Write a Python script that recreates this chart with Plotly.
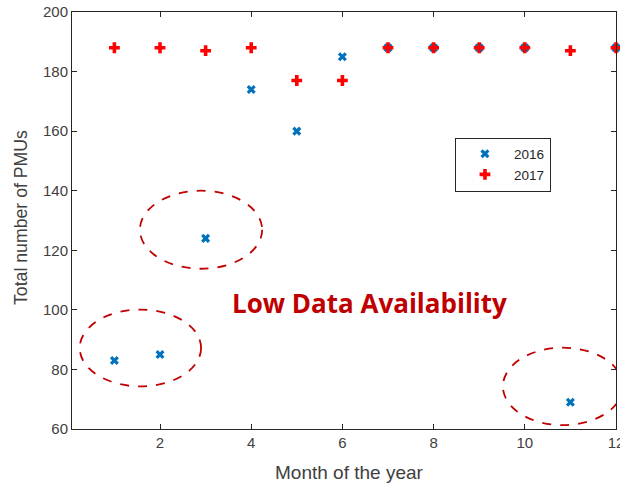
import plotly.graph_objects as go

months = [1, 2, 3, 4, 5, 6, 7, 8, 9, 10, 11, 12]
pmus_2016 = [83, 85, 124, 174, 160, 185, 188, 188, 188, 188, 69, 188]
pmus_2017 = [188, 188, 187, 188, 177, 177, 188, 188, 188, 188, 187, 188]
x_ticks = [2, 4, 6, 8, 10, 12]
y_ticks = [60, 80, 100, 120, 140, 160, 180, 200]

axis_color = "#262626"
label_color = "#404040"
note_color = "#c00000"

fig = go.Figure()
fig.add_trace(go.Scatter(
    x=months, y=pmus_2016, mode="markers", name="2016", cliponaxis=False,
    marker=dict(symbol="x", size=8, color="#0072BD", line=dict(width=0)),
))
fig.add_trace(go.Scatter(
    x=months, y=pmus_2017, mode="markers", name="2017", cliponaxis=False,
    marker=dict(symbol="cross", size=9, color="#FF0000", line=dict(width=0)),
))

ellipses = [
    (0.24, 74.3, 2.90, 100.1),
    (1.56, 113.8, 4.24, 140.0),
    (9.52, 61.3, 12.15, 87.3),
]
for x0, y0, x1, y1 in ellipses:
    fig.add_shape(type="circle", xref="x", yref="y", x0=x0, y0=y0, x1=x1, y1=y1,
                  line=dict(color=note_color, width=1.8, dash="dash"))

fig.add_annotation(x=6.6, y=102.4, xref="x", yref="y", text="<b>Low Data Availability</b>",
                   showarrow=False, xanchor="center", yanchor="middle",
                   font=dict(family="Open Sans", size=26, color=note_color))

fig.add_annotation(x=-0.094, y=0.508, xref="paper", yref="paper", text="Total number of PMUs",
                   textangle=-90, showarrow=False, xanchor="center", yanchor="middle",
                   font=dict(family="Liberation Sans, Arial", size=17.7, color=label_color))
fig.add_annotation(x=0.510, y=-0.105, xref="paper", yref="paper", text="Month of the year",
                   showarrow=False, xanchor="center", yanchor="middle",
                   font=dict(family="Liberation Sans, Arial", size=19, color=label_color))

fig.update_layout(
    width=620, height=483,
    margin=dict(l=72, r=4, t=12, b=54, autoexpand=False),
    plot_bgcolor="white", paper_bgcolor="white",
    font=dict(family="Liberation Sans, Arial", size=15, color=label_color),
    legend=dict(x=0.704, y=0.699, xanchor="left", yanchor="top",
                bordercolor=axis_color, borderwidth=1, bgcolor="white",
                font=dict(size=13.5, color="#262626"), itemwidth=48, tracegroupgap=0),
    showlegend=True,
)
fig.update_xaxes(range=[0.07, 12], tickvals=x_ticks, ticks="inside", ticklen=5,
                 showline=True, linecolor=axis_color, linewidth=1, mirror="ticks",
                 showgrid=False, zeroline=False, tickcolor=axis_color, automargin=False,
                 ticklabeloverflow="allow",
                 tickfont=dict(size=15, color=label_color))
fig.update_yaxes(range=[60, 200], tickvals=y_ticks, ticks="inside", ticklen=5,
                 showline=True, linecolor=axis_color, linewidth=1, mirror="ticks",
                 showgrid=False, zeroline=False, tickcolor=axis_color, automargin=False,
                 ticklabeloverflow="allow",
                 tickfont=dict(size=15, color=label_color))

fig.write_html("out.html", config={"displayModeBar": False},
               post_script="document.body.style.margin='0';")
